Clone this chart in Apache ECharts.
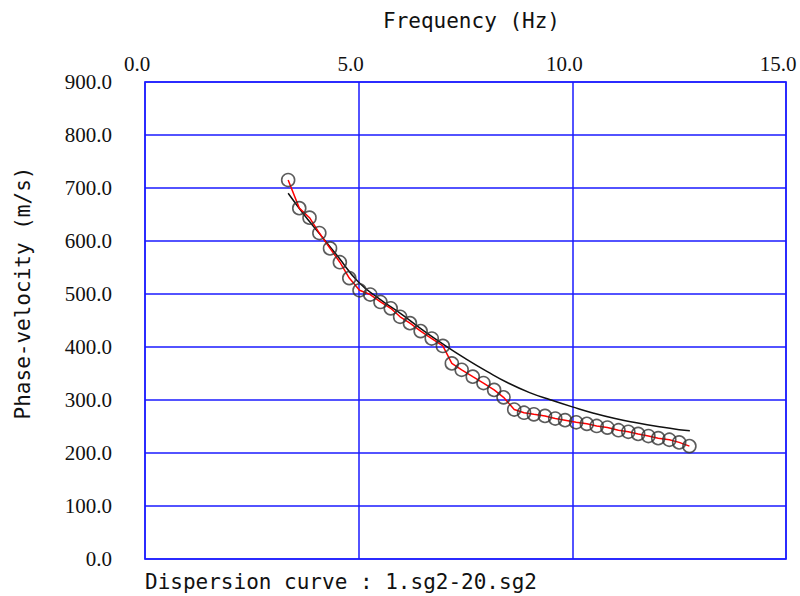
<!DOCTYPE html>
<html>
<head>
<meta charset="utf-8">
<script src="https://cdn.jsdelivr.net/npm/echarts@6/dist/echarts.min.js"></script>
<style>
  html, body { margin: 0; padding: 0; background: #fff; }
  #main { width: 800px; height: 596px; }
</style>
</head>
<body>
<div id="main"></div>
<script>
// observed dispersion points (Hz, m/s)
var obsFreq = [3.35, 3.61, 3.85, 4.08, 4.33, 4.56, 4.78, 5.02, 5.27, 5.51,
               5.75, 5.97, 6.20, 6.45, 6.71, 6.97, 7.18, 7.41, 7.67, 7.92,
               8.17, 8.39, 8.64, 8.87, 9.10, 9.36, 9.60, 9.83, 10.09, 10.34,
               10.57, 10.82, 11.08, 11.31, 11.54, 11.78, 12.01, 12.27, 12.50, 12.74];
var obsVel = [715, 662, 644, 615, 586, 560, 530, 507, 499, 485,
              473, 457, 445, 430, 416, 402, 369, 357, 344, 332,
              319, 305, 282, 276, 273, 270, 265, 262, 258, 255,
              251, 248, 243, 240, 236, 232, 228, 225, 220, 213];

// theoretical curve
var thFreq = [3.35, 3.7, 4.1, 4.5, 5.0, 5.5, 6.0, 6.5, 7.0, 7.5, 8.0,
              8.5, 9.0, 9.5, 10.0, 10.5, 11.0, 11.5, 12.0, 12.5, 12.75];
var thVel = [690, 652, 612, 572, 522, 490, 462, 432, 404, 378, 354,
             332, 314, 300, 287, 275, 265, 257, 250, 244, 242];

var obsData = obsFreq.map(function (f, i) { return [f, obsVel[i]]; });
var thData = thFreq.map(function (f, i) { return [f, thVel[i]]; });

var blue = '#1a1aff';
var tickFont = { fontFamily: 'Liberation Serif', fontSize: 21, color: '#111' };
var monoFont = 'DejaVu Sans Mono';

var option = {
    animation: false,
    backgroundColor: '#fff',
    title: {
        text: 'Dispersion curve : 1.sg2-20.sg2',
        left: 145,
        top: 571,
        padding: 0,
        textStyle: { fontFamily: monoFont, fontSize: 21, fontWeight: 'normal', color: '#111' }
    },
    graphic: [{
        type: 'text',
        x: 23,
        y: 293,
        rotation: Math.PI / 2,
        style: {
            text: 'Phase-velocity (m/s)',
            fontFamily: monoFont,
            fontSize: 21,
            fill: '#111',
            align: 'center',
            verticalAlign: 'middle'
        }
    }],
    grid: {
        left: 145,
        right: 14,
        top: 82,
        bottom: 37,
        outerBoundsMode: 'none',
        show: true,
        borderColor: '#6060ff',
        borderWidth: 2
    },
    xAxis: {
        type: 'value',
        position: 'top',
        min: 0,
        max: 15,
        interval: 5,
        name: 'Frequency (Hz)',
        nameLocation: 'middle',
        nameGap: 51,
        nameTextStyle: { fontFamily: monoFont, fontSize: 21, color: '#111', padding: [0, 0, 0, 12] },
        axisLine: { show: false },
        axisTick: { show: false },
        axisLabel: Object.assign({
            margin: 8,
            padding: [0, 16, 0, 0],
            formatter: function (v) { return v.toFixed(1); }
        }, tickFont),
        splitLine: { show: true, lineStyle: { color: blue, width: 1.5 } }
    },
    yAxis: {
        type: 'value',
        min: 0,
        max: 900,
        interval: 100,
        axisLine: { show: false },
        axisTick: { show: false },
        axisLabel: Object.assign({
            margin: 33,
            padding: [5, 0, 0, 0],
            formatter: function (v) { return v.toFixed(1); }
        }, tickFont),
        splitLine: { show: true, lineStyle: { color: blue, width: 1.5 } }
    },
    series: [
        {
            name: 'theory',
            type: 'line',
            data: thData,
            smooth: true,
            showSymbol: false,
            lineStyle: { color: '#111', width: 1.5 },
            z: 3
        },
        {
            name: 'observed-line',
            type: 'line',
            data: obsData,
            showSymbol: false,
            lineStyle: { color: '#ff0000', width: 1.5 },
            z: 4
        },
        {
            name: 'observed',
            type: 'scatter',
            data: obsData,
            symbol: 'circle',
            symbolSize: 13,
            itemStyle: { color: 'rgba(0,0,0,0)', borderColor: '#333', borderWidth: 1.6 },
            z: 5
        }
    ]
};

var chart = echarts.init(document.getElementById('main'), null, { renderer: 'svg' });
chart.setOption(option);
</script>
</body>
</html>
